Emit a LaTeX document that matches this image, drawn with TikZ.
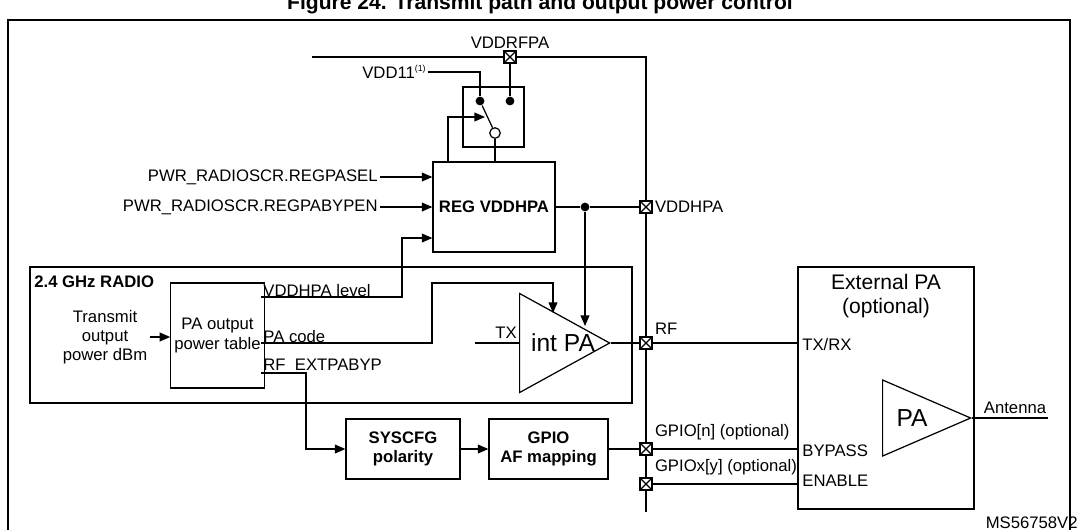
\documentclass[tikz,border=0pt]{standalone}
\usepackage{fontspec}
\setmainfont{Liberation Sans}
\usetikzlibrary{arrows.meta, positioning, shapes.geometric}

\tikzset{
    blk/.style={draw, rectangle, inner sep=2pt, align=center},
    pad/.style={draw, rectangle, minimum size=12*0.02cm, inner sep=0pt, fill=white,
        path picture={\draw (path picture bounding box.south west) -- (path picture bounding box.north east)
                            (path picture bounding box.north west) -- (path picture bounding box.south east);}},
    amp/.style={draw, isosceles triangle, isosceles triangle stretches, inner sep=0pt, fill=white, anchor=lower side},
    dot/.style={circle, fill, inner sep=0pt, minimum size=5pt},
    lbl/.style={inner sep=1pt, font=\fontsize{9.5}{11}\selectfont},
    sig/.style={-{Triangle[length=6pt,width=5pt]}}
}

\begin{document}
\begin{tikzpicture}[x=0.02cm, y=-0.02cm, line width=0.7pt, font=\fontsize{9.5}{11}\selectfont]
\useasboundingbox (0,0) rectangle (1077,529);

% title and frame
\node[font=\bfseries\fontsize{12}{14}\selectfont] (title) at (540,4) {Figure 24. Transmit path and output power control};
\draw[line width=1pt] (8,545) -- (8,20) -- (1070,20) -- (1070,545);

% supply bus
\coordinate (bustop) at (312,57);
\coordinate (buscorner) at (646,57);
\coordinate (busbot) at (646,512);
\draw[line width=1.2pt] (bustop) -- (buscorner) -- (busbot);

% pads
\node[pad] (prfpa) at (510,57) {};
\node[pad] (phpa) at (646,207) {};
\node[pad] (prf) at (646,343) {};
\node[pad] (pgn) at (646,449) {};
\node[pad] (pgx) at (646,484) {};
\node[lbl, above=0pt of prfpa] {VDDRFPA};
\node[lbl, right=0pt of phpa] {VDDHPA};
\node[lbl, anchor=south west] at (prf.north east) {RF};
\node[lbl, anchor=south west] at (pgn.north east) {GPIO[n] (optional)};
\node[lbl, anchor=south west] at (pgx.north east) {GPIOx[y] (optional)};

% switch
\node[blk, minimum width=61*0.02cm, minimum height=60*0.02cm] (sw) at (493.5,117) {};
\node[dot] (swa) at (480,101) {};
\node[dot] (swb) at (510,101) {};
\node[circle, draw, fill=white, inner sep=0pt, minimum size=6pt] (swc) at (495,133) {};
\draw (swa) -- (swc);
\node[lbl, anchor=east] (vdd) at (428,72) {VDD11\raisebox{0.8ex}{\tiny(1)}};
\draw (vdd) -- (480,72) -- (swa);
\draw (prfpa) -- (swb);

% regulator
\node[blk, font=\bfseries\fontsize{9.5}{11}\selectfont, minimum width=122*0.02cm, minimum height=90*0.02cm] (reg) at (494,207) {REG VDDHPA};
\draw[sig] (448,162) -- (448,117) -- (485,117);
\draw (swc) -- (495,162);
\node[lbl, anchor=east] (sel) at (380,177) {PWR\_RADIOSCR.REGPASEL};
\node[lbl, anchor=east] (byp) at (380,207) {PWR\_RADIOSCR.REGPABYPEN};
\draw[sig] (sel) -- (sel -| reg.west);
\draw[sig] (byp) -- (byp -| reg.west);
\node[dot] (split) at (585,207) {};
\draw (reg.east) -- (split) -- (phpa);

% radio
\draw (30,267) rectangle (632,403);
\node[lbl, font=\bfseries\fontsize{9.5}{11}\selectfont, anchor=west] (radio) at (32,282) {2.4 GHz RADIO};
\node[blk, minimum width=87*0.02cm, minimum height=105*0.02cm] (tbl) at (217.5,335.5) {PA output\\power table};
\node[lbl, align=center] (txin) at (105,337) {Transmit\\output\\power dBm};
\draw[sig] (txin.east) -- (tbl.west |- txin.east);
\node[amp, minimum height=90*0.02cm, minimum width=99*0.02cm] (ipa) at (519,343) {};
\node[font=\fontsize{14}{16}\selectfont] at (563,343) {int PA};
\coordinate (txl) at (475,343);
\draw (txl) -- (ipa.lower side);
\node[lbl, anchor=south] at (506,341) {TX};
\node[lbl, anchor=south west] (lvl) at (261,299) {VDDHPA level};
\draw[sig] (261,297) -- (402,297) -- (402,238) -- (reg.west |- 402,238);
\node[lbl, anchor=south west] (code) at (261,345) {PA code};
\draw[sig] (261,343) -- (432,343) -- (432,283) -- (553,283) -- (553,313);
\draw[sig] (split) -- (585,326);
\node[lbl, anchor=north west] (bypl) at (261,357) {RF\_EXTPABYP};
\draw (ipa.apex) -- (prf);

% gpio path
\node[blk, font=\bfseries\fontsize{9.5}{11}\selectfont, minimum width=114*0.02cm, minimum height=60*0.02cm] (sys) at (403,449) {SYSCFG\\polarity};
\node[blk, font=\bfseries\fontsize{9.5}{11}\selectfont, minimum width=119*0.02cm, minimum height=60*0.02cm] (gpio) at (548.5,449) {GPIO\\AF mapping};
\draw[sig] (261,373) -- (306,373) -- (306,449) -- (sys.west);
\draw[sig] (sys) -- (gpio);
\draw (gpio) -- (pgn);

% external PA
\node[blk, minimum width=176*0.02cm, minimum height=242*0.02cm] (ext) at (886,388) {};
\node[align=center, font=\fontsize{12}{14}\selectfont] at (886,296) {External PA\\(optional)};
\node[lbl, anchor=west] (txrx) at (800,345) {TX/RX};
\node[lbl, anchor=west] (bpin) at (800,451) {BYPASS};
\node[lbl, anchor=west] (enin) at (800,481) {ENABLE};
\draw (prf) -- (prf -| ext.west);
\draw (pgn) -- (pgn -| ext.west);
\draw (pgx) -- (pgx -| ext.west);
\node[amp, minimum height=88*0.02cm, minimum width=76*0.02cm] (epa) at (882,418) {};
\node[font=\fontsize{14}{16}\selectfont] at (912,418) {PA};
\coordinate (ant) at (1048,418);
\draw (epa.apex) -- (ant);
\node[lbl, anchor=south] at (1015,416) {Antenna};
\node[lbl, anchor=east] at (1080,523) {MS56758V2};
\end{tikzpicture}
\end{document}
